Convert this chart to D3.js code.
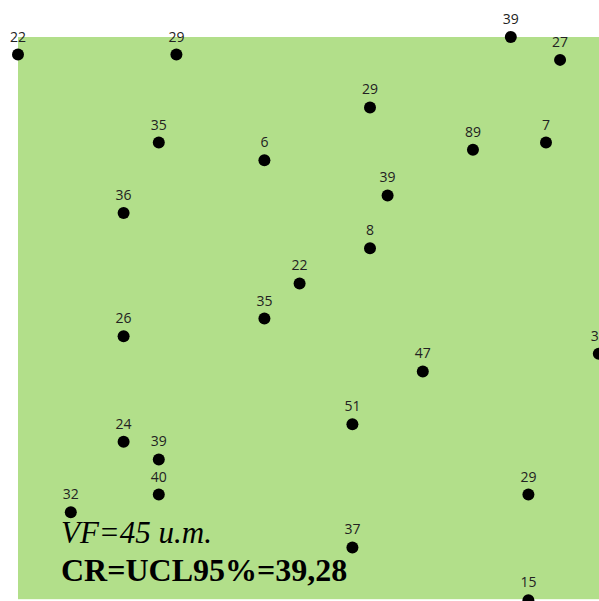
<!DOCTYPE html>
<html>
<head>
<meta charset="utf-8">
<script src="https://cdn.jsdelivr.net/npm/d3@7"></script>
<style>
  html, body { margin: 0; padding: 0; background: #fff; }
  svg { display: block; }
</style>
</head>
<body>
<svg id="chart" width="599" height="601"></svg>
<script>
// Sample points: grid coordinates (column, row) and measured values
const colX   = [0, 9, 28, 30.8, 8, 14, 20, 25.85, 30, 6, 21, 20, 16, 14, 6, 33, 23, 19, 6, 8, 8, 3, 29, 19, 29];
const rowY   = [1, 1, 0, 1.3, 6, 7, 4, 6.4, 6, 10, 9, 12, 14, 16, 17, 18, 19, 22, 23, 24, 26, 27, 26, 29, 32];
const values = ["22","29","39","27","35","6","29","89","7","36","39","8","22","35","26","33","47","51","24","39","40","32","29","37","15"];
const annotations = ["VF=45 u.m.", "CR=UCL95%=39,28"];
const gridCols = 33, gridRows = 32;

const svg = d3.select("#chart");
const W = 599, H = 601;

const x = d3.scaleLinear().domain([0, gridCols]).range([18, 598.8]);
const y = d3.scaleLinear().domain([0, gridRows]).range([37, 600.2]);

svg.append("rect")
  .attr("x", x(0)).attr("y", y(0))
  .attr("width", W - x(0) + 5)
  .attr("height", y(gridRows) - y(0) - 1)
  .attr("fill", "#b2df8a");

const pts = colX.map((c, i) => ({c, r: rowY[i], v: values[i]}));

const g = svg.append("g");
g.selectAll("circle").data(pts).join("circle")
  .attr("cx", d => x(d.c)).attr("cy", d => y(d.r))
  .attr("r", 6).attr("fill", "#000");

g.selectAll("text.lbl").data(pts).join("text")
  .attr("class", "lbl")
  .attr("x", d => x(d.c)).attr("y", d => y(d.r) - 13)
  .attr("text-anchor", "middle")
  .attr("font-family", "'Open Sans', sans-serif")
  .attr("font-size", 14)
  .attr("fill", "#222")
  .text(d => d.v);

svg.append("text")
  .attr("x", 61).attr("y", 543)
  .attr("font-family", "'Liberation Serif', 'Times New Roman', serif")
  .attr("font-style", "italic")
  .attr("font-size", 31)
  .attr("fill", "#000")
  .text(annotations[0]);

svg.append("text")
  .attr("x", 61).attr("y", 581)
  .attr("font-family", "'Liberation Serif', 'Times New Roman', serif")
  .attr("font-weight", "bold")
  .attr("font-size", 32)
  .attr("fill", "#000")
  .text(annotations[1]);
</script>
</body>
</html>
